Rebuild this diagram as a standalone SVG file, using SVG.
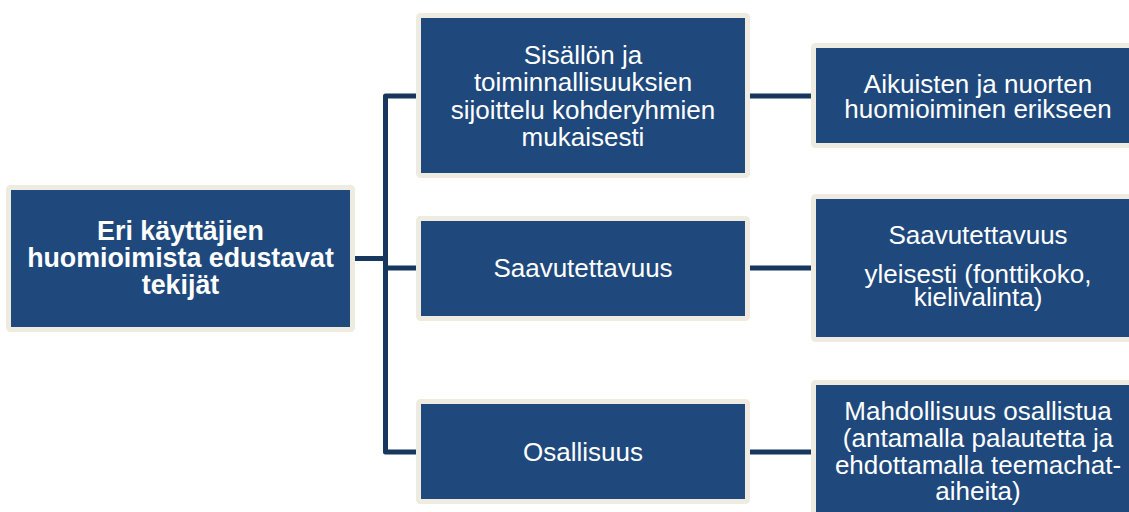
<svg xmlns="http://www.w3.org/2000/svg" width="1129" height="512" viewBox="0 0 1129 512">
  <style>
    .box { fill: #1F497D; stroke: #EEECE1; stroke-width: 5; }
    .lbl { font-family: "Liberation Sans", Arial, sans-serif; font-size: 26px; fill: #FFFFFF; text-anchor: middle; }
    .bold { font-weight: bold; font-size: 26.8px; }
    .conn { fill: none; stroke: #17375E; stroke-width: 5; stroke-linejoin: round; }
  </style>
  <rect width="1129" height="512" fill="#FFFFFF"/>

  <!-- connectors -->
  <g id="connectors">
    <path class="conn" d="M355 258.5 H385.5"/>
    <path class="conn" d="M416 96 H385.5 V452 H416"/>
    <path class="conn" d="M385.5 268 H416"/>
    <path class="conn" d="M750 96 H811"/>
    <path class="conn" d="M750 268 H811"/>
    <path class="conn" d="M750 452 H811"/>
  </g>

  <!-- root -->
  <g id="root">
    <rect class="box" x="8.5" y="187.5" width="344" height="142" rx="2"/>
    <text class="lbl bold" x="180.5" y="240">Eri käyttäjien</text>
    <text class="lbl bold" x="180.5" y="267">huomioimista edustavat</text>
    <text class="lbl bold" x="180.5" y="294">tekijät</text>
  </g>

  <!-- second level -->
  <g id="sisallon">
    <rect class="box" x="418.5" y="15.5" width="329" height="160" rx="2"/>
    <text class="lbl" x="583" y="63.5">Sisällön ja</text>
    <text class="lbl" x="583" y="91">toiminnallisuuksien</text>
    <text class="lbl" x="583" y="118.5">sijoittelu kohderyhmien</text>
    <text class="lbl" x="583" y="146">mukaisesti</text>
  </g>
  <g id="saavutettavuus">
    <rect class="box" x="418.5" y="218.5" width="329" height="100" rx="2"/>
    <text class="lbl" x="583" y="277">Saavutettavuus</text>
  </g>
  <g id="osallisuus">
    <rect class="box" x="418.5" y="401.5" width="329" height="100" rx="2"/>
    <text class="lbl" x="583" y="461">Osallisuus</text>
  </g>

  <!-- third level -->
  <g id="aikuisten">
    <rect class="box" x="813.5" y="45.5" width="329" height="100" rx="2"/>
    <text class="lbl" x="978" y="92.5">Aikuisten ja nuorten</text>
    <text class="lbl" x="978" y="117.5">huomioiminen erikseen</text>
  </g>
  <g id="saavutettavuus-yleisesti">
    <rect class="box" x="813.5" y="196.5" width="329" height="143" rx="2"/>
    <text class="lbl" x="978" y="243.5">Saavutettavuus</text>
    <text class="lbl" x="978" y="283">yleisesti (fonttikoko,</text>
    <text class="lbl" x="978" y="306">kielivalinta)</text>
  </g>
  <g id="mahdollisuus">
    <rect class="box" x="813.5" y="382.5" width="329" height="140" rx="2"/>
    <text class="lbl" x="978" y="420">Mahdollisuus osallistua</text>
    <text class="lbl" x="978" y="447">(antamalla palautetta ja</text>
    <text class="lbl" x="978" y="474">ehdottamalla teemachat-</text>
    <text class="lbl" x="978" y="500">aiheita)</text>
  </g>
</svg>
